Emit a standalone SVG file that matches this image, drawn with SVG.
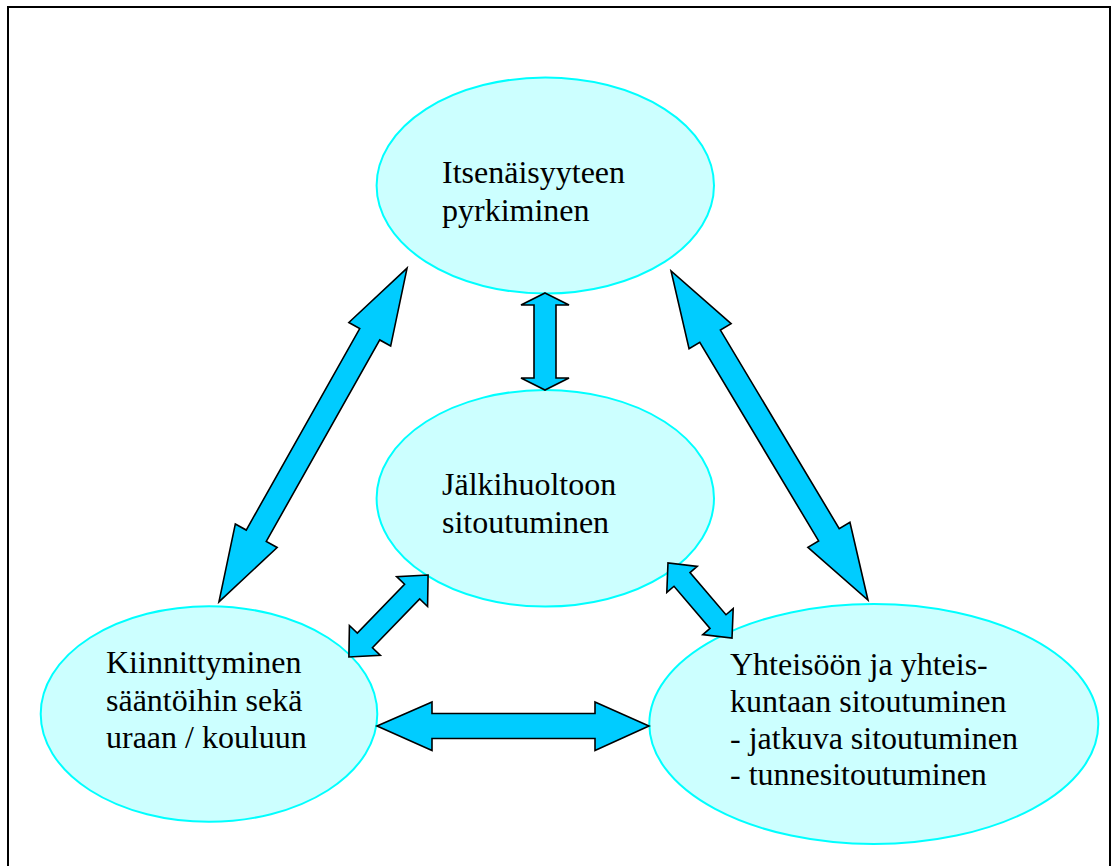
<svg xmlns="http://www.w3.org/2000/svg" width="1114" height="866" viewBox="0 0 1114 866">
<style>
.node{fill:#CCFFFF;stroke:#00FFFF;stroke-width:2}
.arr{fill:#00CCFF;stroke:#000;stroke-width:1.6;stroke-linejoin:miter}
text{font-family:'Liberation Serif','Times New Roman','DejaVu Serif',serif;font-size:32px;fill:#000}
</style>
<rect x="8" y="7" width="1102" height="900" fill="#fff" stroke="#000" stroke-width="2"/>
<g id="n-top" font-family="Liberation Serif, DejaVu Serif, serif">
<ellipse class="node" cx="545.3" cy="185.5" rx="168.7" ry="108"/>
<text x="442" y="183">Itsenäisyyteen</text>
<text x="442" y="220.5">pyrkiminen</text>
</g>
<g id="n-mid" font-family="Liberation Serif, DejaVu Serif, serif">
<ellipse class="node" cx="545.3" cy="498.3" rx="168.7" ry="108.3"/>
<text x="442" y="495">Jälkihuoltoon</text>
<text x="442" y="532.5">sitoutuminen</text>
</g>
<g id="n-left" font-family="Liberation Serif, DejaVu Serif, serif">
<ellipse class="node" cx="209" cy="714" rx="168.3" ry="107.8"/>
<text x="106" y="673.3">Kiinnittyminen</text>
<text x="106" y="710.8">sääntöihin sekä</text>
<text x="106" y="748.3">uraan / kouluun</text>
</g>
<g id="n-right" font-family="Liberation Serif, DejaVu Serif, serif">
<ellipse class="node" cx="873.8" cy="724" rx="224.5" ry="120"/>
<text x="730" y="675">Yhteisöön ja yhteis-</text>
<text x="730" y="712">kuntaan sitoutuminen</text>
<text x="730" y="748.5">- jatkuva sitoutuminen</text>
<text x="730" y="785">- tunnesitoutuminen</text>
</g>
<g id="connectors">
<polygon class="arr" transform="translate(313 435) rotate(-60.6)" points="191.6,0 115.6,-24 115.6,-11.5 -115.6,-11.5 -115.6,-24 -191.6,0 -115.6,24 -115.6,11.5 115.6,11.5 115.6,24"/>
<polygon class="arr" transform="translate(769.5 435.5) rotate(59.1)" points="191.7,0 115.7,-24.5 115.7,-12 -115.7,-12 -115.7,-24.5 -191.7,0 -115.7,24.5 -115.7,12 115.7,12 115.7,24.5"/>
<polygon class="arr" points="545,293 569,305 556,305 556,378 569,378 545,390 521,378 534,378 534,305 521,305"/>
<polygon class="arr" points="377,726 432,702 432,713.5 595,713.5 595,702 649,726 595,750.5 595,738.5 432,738.5 432,750.5"/>
<polygon class="arr" transform="translate(388.5 616) rotate(-46)" points="57,0 34,-21.5 34,-10.5 -34,-10.5 -34,-21.5 -57,0 -34,21.5 -34,10.5 34,10.5 34,21.5"/>
<polygon class="arr" transform="translate(700 600.5) rotate(49.5)" points="49.3,0 27.7,-20 27.7,-10.5 -27.7,-10.5 -27.7,-20 -49.3,0 -27.7,20 -27.7,10.5 27.7,10.5 27.7,20"/>
</g>
</svg>
